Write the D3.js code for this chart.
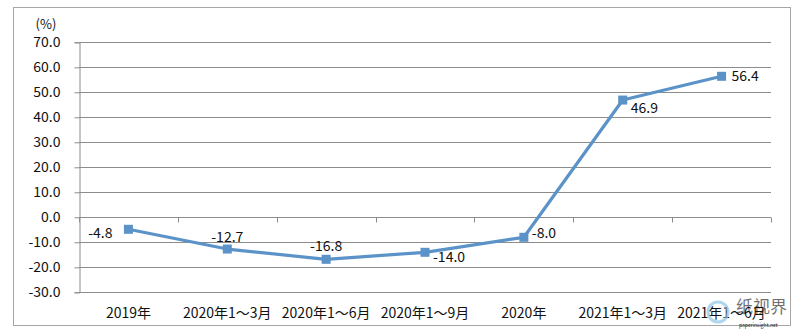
<!DOCTYPE html>
<html>
<head>
<meta charset="utf-8">
<script src="https://cdn.jsdelivr.net/npm/d3@7"></script>
<style>
  body { margin: 0; background: #fff; }
  text { font-family: "Noto Sans CJK SC", "Open Sans", sans-serif; fill: #111; }
</style>
</head>
<body>
<svg id="graphic" width="800" height="333"></svg>
<script>
let categories = ['2019年', '2020年1～3月', '2020年1～6月', '2020年1～9月', '2020年', '2021年1～3月', '2021年1～6月'];
let values = [-4.8, -12.7, -16.8, -14.0, -8.0, 46.9, 56.4];
let yTicks = [70, 60, 50, 40, 30, 20, 10, 0, -10, -20, -30];
// label offsets relative to each point: [dx, dy, anchor]
let labelPos = [[-16, 4, 'end'], [0, -12, 'middle'], [0, -13, 'middle'], [8, 5, 'start'], [8, -4, 'start'], [8, 8, 'start'], [10, 0, 'start']];

// hyphen instead of the unicode minus
let fmt = d => d3.format('.1f')(d).replace('\u2212', '-');

let svg = d3.select('#graphic');

svg.append('rect')
    .attr('x', 13.5).attr('y', 7.5)
    .attr('width', 777).attr('height', 318)
    .attr('fill', 'none')
    .attr('stroke', '#a6a6a6');

let xScale = d3.scaleBand()
    .domain(categories)
    .range([79, 771]);

let yScale = d3.scaleLinear()
    .domain([-30, 70])
    .range([292.3, 42.3]);

// gridlines
svg.append('g')
    .selectAll('line')
    .data(yTicks)
    .enter()
    .append('line')
    .attr('x1', 79).attr('x2', 771)
    .attr('y1', d => Math.round(yScale(d)) + 0.5)
    .attr('y2', d => Math.round(yScale(d)) + 0.5)
    .attr('stroke', '#8c8c8c')
    .attr('stroke-width', 1);

// left axis
let yAxis = d3.axisLeft(yScale)
    .tickValues(yTicks)
    .tickSize(5)
    .tickFormat(fmt);

let yg = svg.append('g')
    .attr('transform', 'translate(79.5,0)')
    .call(yAxis);
yg.select('.domain').attr('stroke', '#8c8c8c');
yg.selectAll('.tick line').attr('stroke', '#8c8c8c');
yg.selectAll('.tick text')
    .attr('x', -19)
    .style('font-size', '14px')
    .attr('fill', '#111');

svg.append('text')
    .attr('x', 46)
    .attr('y', 29)
    .attr('text-anchor', 'middle')
    .style('font-size', '13px')
    .text('(%)');

// x axis on zero line, ticks at band edges
let y0 = Math.round(yScale(0)) + 0.5;
let edges = categories.map(c => xScale(c)).concat([xScale.range()[1]]);
svg.append('g')
    .selectAll('line')
    .data(edges)
    .enter()
    .append('line')
    .attr('x1', d => Math.round(d) + 0.5)
    .attr('x2', d => Math.round(d) + 0.5)
    .attr('y1', y0)
    .attr('y2', y0 + 5)
    .attr('stroke', '#8c8c8c');

svg.append('g')
    .selectAll('text')
    .data(categories)
    .enter()
    .append('text')
    .attr('x', d => xScale(d) + xScale.bandwidth() / 2)
    .attr('y', 318)
    .attr('text-anchor', 'middle')
    .style('font-size', '14px')
    .text(d => d);

// line
let cx = (d, i) => xScale(categories[i]) + xScale.bandwidth() / 2;
let line = d3.line()
    .x(cx)
    .y(d => yScale(d));

svg.append('path')
    .datum(values)
    .attr('d', line)
    .attr('fill', 'none')
    .attr('stroke', '#5b93c8')
    .attr('stroke-width', 3.2)
    .attr('stroke-linejoin', 'round');

svg.selectAll('.data_point')
    .data(values)
    .enter()
    .append('rect')
    .classed('data_point', true)
    .attr('x', (d, i) => cx(d, i) - 4.5)
    .attr('y', d => yScale(d) - 4.5)
    .attr('width', 9)
    .attr('height', 9)
    .attr('fill', '#5b93c8');

svg.selectAll('.data_label')
    .data(values)
    .enter()
    .append('text')
    .classed('data_label', true)
    .attr('x', (d, i) => cx(d, i) + labelPos[i][0])
    .attr('y', (d, i) => yScale(d) + labelPos[i][1])
    .attr('dy', '0.35em')
    .attr('text-anchor', (d, i) => labelPos[i][2])
    .style('font-size', '14px')
    .text(fmt);

// watermark
svg.append('circle')
    .attr('cx', 718).attr('cy', 312).attr('r', 10)
    .attr('fill', 'none').attr('stroke', '#8cc6e6').attr('stroke-width', 3).attr('opacity', 0.7);
svg.append('text')
    .attr('x', 736).attr('y', 313)
    .style('font-size', '17px')
    .attr('fill', '#9a9a9a').attr('opacity', 0.6)
    .text('纸视界');
svg.append('text')
    .attr('x', 739).attr('y', 327)
    .style('font-size', '5px')
    .attr('fill', '#999')
    .text('paperinsight.net');
</script>
</body>
</html>
